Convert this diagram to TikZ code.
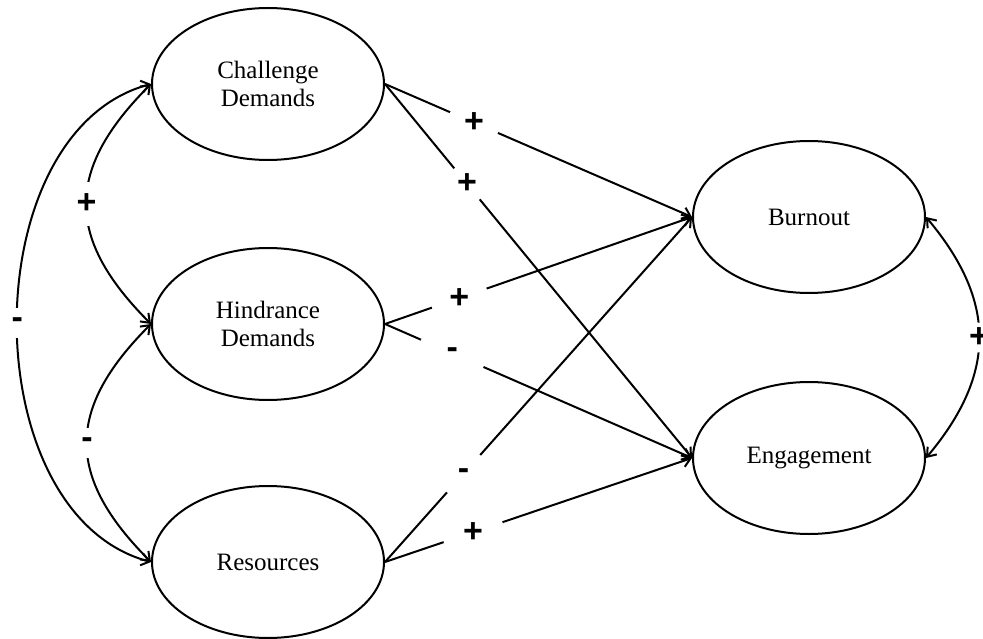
\documentclass[tikz,border=0pt]{standalone}
\usepackage{fontspec}
\setmainfont{Liberation Serif}
\newfontfamily\lblfont{Liberation Sans}
\usetikzlibrary{arrows.meta,shapes.geometric}
\begin{document}
\begin{tikzpicture}[x=1pt,y=-1pt,
  ell/.style={draw, ellipse, line width=2pt, minimum width=232pt, minimum height=152pt,
              inner sep=0pt, font=\fontsize{25}{28}\selectfont, align=center},
  conn/.style={line width=2pt, -{Straight Barb[length=8pt,width=12pt]}},
  dconn/.style={line width=2pt, {Straight Barb[length=8pt,width=12pt]}-{Straight Barb[length=8pt,width=12pt]}},
  lbl/.style={circle, fill=white, inner sep=0pt, font=\lblfont\bfseries\fontsize{34}{34}\selectfont}
]
\useasboundingbox (0,0) rectangle (983,639);

\node[ell] (C) at (268,84)  {Challenge\\Demands};
\node[ell] (H) at (268,324) {Hindrance\\Demands};
\node[ell] (R) at (268,562) {Resources};
\node[ell] (B) at (809,217) {Burnout};
\node[ell] (E) at (809,458) {Engagement};

% paths to outcomes
\draw[conn] (C.east) -- node[lbl, pos=0.29,  minimum size=52pt] {+} (B.west);
\draw[conn] (C.east) -- node[lbl, pos=0.267, minimum size=40pt] {+} (E.west);
\draw[conn] (H.east) -- node[lbl, pos=0.242, minimum size=58pt] {+} (B.west);
\draw[conn] (H.east) -- node[lbl, pos=0.219, minimum size=68pt] {-} (E.west);
\draw[conn] (R.east) -- node[lbl, pos=0.256, minimum size=50pt] {-} (B.west);
\draw[conn] (R.east) -- node[lbl, pos=0.287, minimum size=62pt] {+} (E.west);

% correlations on the left
\draw[dconn] (C.west) to[out=225, in=135, looseness=1.3]
   node[lbl, minimum size=44pt] {+} (H.west);
\draw[dconn] (H.west) to[out=225, in=135, looseness=1.3]
   node[lbl, minimum size=30pt] {-} (R.west);
\draw[dconn] (C.west) to[out=195, in=165, looseness=0.99]
   node[lbl, minimum size=30pt] {-} (R.west);

% correlation on the right
\draw[dconn] (B.east) to[out=-50, in=50, looseness=1.17]
   node[lbl, minimum size=30pt] {+} (E.east);
\end{tikzpicture}
\end{document}
